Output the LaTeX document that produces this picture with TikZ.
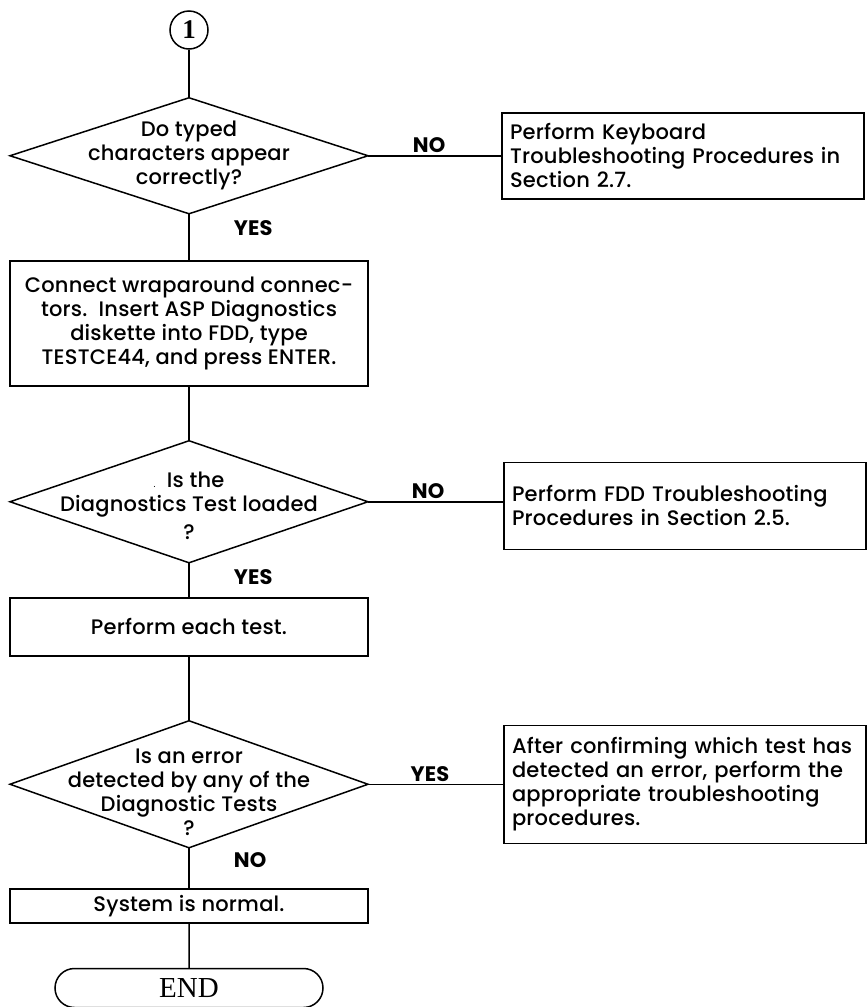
\documentclass[tikz,border=0pt]{standalone}
\usepackage{fontspec}
\setmainfont{Poppins}[UprightFont=* Medium, BoldFont=* Bold, LetterSpace=1]
\newfontfamily\serifface{Liberation Serif}
\usetikzlibrary{shapes.geometric, shapes.misc, positioning}

\begin{document}
\begin{tikzpicture}[
  x=1pt, y=-1pt,
  font=\fontsize{21}{24}\selectfont,
  decision/.style={diamond, draw=black, line width=1.5pt, minimum width=358pt, inner sep=0pt, outer sep=0pt},
  qtext/.style={align=center, inner sep=0pt},
  stepbox/.style={rectangle, draw=black, line width=1.5pt, minimum width=358pt, align=center, inner sep=0pt, outer sep=0pt},
  notebox/.style={rectangle, draw=black, line width=1.5pt, text width=346pt, align=left, inner xsep=8pt, inner ysep=0pt, outer sep=0pt},
  answer/.style={font=\fontsize{21}{22}\selectfont\bfseries, inner sep=2pt},
  terminal/.style={rounded rectangle, draw=black, line width=1.5pt, minimum width=268pt, minimum height=39pt, inner sep=0pt, font=\serifface\fontsize{29}{29}\selectfont},
  connector/.style={circle, draw=black, line width=1.5pt, minimum size=38pt, inner sep=0pt, font=\serifface\fontsize{27}{27}\selectfont\bfseries},
  line/.style={draw, line width=1.5pt}
]
  \useasboundingbox (0,0) rectangle (867,1007);

  \node [connector] (start) at (189,30) {1};
  \node [decision, minimum height=116pt, below=48pt of start] (typed) {};
  \node [qtext] (typedtxt) at (typed) {Do typed\\characters appear\\correctly?};
  \node [stepbox, minimum height=125pt, below=47pt of typed] (wrap) {Connect wraparound connec-\\tors.\ \ Insert ASP Diagnostics\\diskette into FDD, type\\TESTCE44, and press ENTER.};
  \node [decision, minimum height=122pt, below=55pt of wrap] (loaded) {};
  \node [qtext] (loadedtxt) at ([yshift=-4pt]loaded.center) {{\fontsize{8}{8}\selectfont.}\ \ Is the\\Diagnostics Test loaded\\[4pt]?};
  \node [stepbox, minimum height=58pt, below=35pt of loaded] (each) {Perform each test.};
  \node [decision, minimum height=127pt, below=65pt of each] (error) {};
  \node [qtext] (errortxt) at ([yshift=-8pt]error.center) {Is an error\\detected by any of the\\Diagnostic Tests\\?};
  \node [stepbox, minimum height=34pt, below=41pt of error] (normal) {System is normal.};
  \node [terminal, below=45pt of normal] (finish) {END};

  \node [notebox, minimum height=86pt, right=134pt of typed] (keyboard) {Perform Keyboard\\Troubleshooting Procedures in\\Section 2.7.};
  \node [notebox, minimum height=87pt, right=136pt of loaded, yshift=-4pt] (fdd) {Perform FDD Troubleshooting\\Procedures in Section 2.5.};
  \node [notebox, minimum height=118pt, right=136pt of error] (confirm) {After confirming which test has\\detected an error, perform the\\appropriate troubleshooting\\procedures.};

  % main line
  \draw [line] (start) -- (typed);
  \draw [line] (typed) -- node[answer, right=42pt, pos=0.3] {YES} (wrap);
  \draw [line] (wrap) -- (loaded);
  \draw [line] (loaded) -- node[answer, right=42pt, pos=0.4] {YES} (each);
  \draw [line] (each) -- (error);
  \draw [line] (error) -- node[answer, right=42pt, pos=0.3] {NO} (normal);
  \draw [line] (normal) -- (finish);

  % branches
  \draw [line] (typed.east) -- node[answer, above, xshift=-6pt] {NO} (keyboard.west |- typed.east);
  \draw [line] (loaded.east) -- node[answer, above, xshift=-8pt] {NO} (fdd.west |- loaded.east);
  \draw [line] (error.east) -- node[answer, above, xshift=-6pt] {YES} (confirm.west |- error.east);
\end{tikzpicture}
\end{document}
